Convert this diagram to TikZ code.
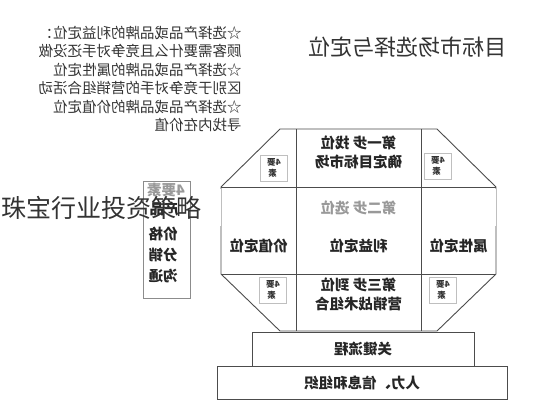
\documentclass[tikz,border=0pt]{standalone}
\usepackage{fontspec}
\newfontfamily\cjk{Noto Sans CJK SC}
\begin{document}
\begin{tikzpicture}[x=1pt,y=-1pt,
  mirror/.style={xscale=-1,transform shape},
  frame/.style={draw=black!70,line width=0.9pt},
  lab/.style={mirror,font=\cjk\bfseries\fontsize{14.5}{19}\selectfont,text=black!85,align=center,inner sep=0pt},
  sbox/.style={mirror,draw=black!25,line width=0.6pt,minimum width=27pt,minimum height=26pt,inner sep=1pt,align=left,font=\cjk\bfseries\fontsize{8.5}{11}\selectfont,text=black!80},
  plain/.style={mirror,draw=black!70,line width=0.9pt,inner sep=0pt}]
\useasboundingbox (0,0) rectangle (533,400);
\fill[white] (0,0) rectangle (533,400);

% left text block
\node[mirror,anchor=center,align=left,inner sep=0pt,font=\cjk\fontsize{14.5}{18.4}\selectfont,text=black!80] (intro) at (140,79)
 {☆选择产品或品牌的利益定位：\\顾客需要什么且竞争对手还没做\\☆选择产品或品牌的属性定位\\区别于竞争对手的营销组合活动\\☆选择产品或品牌的价值定位\\寻找内在价值};

% title
\node[mirror,font=\cjk\fontsize{22}{24}\selectfont,text=black!80,inner sep=0pt] (title) at (407,47) {目标市场选择与定位};

% octagon
\draw[frame] (280,129) -- (437,129) -- (496,187) -- (496,274) -- (437,331) -- (280,331) -- (221,274) -- (221,187) -- cycle;
\draw[white,line width=1.2pt] (221,189) -- (221,226) (496,189) -- (496,226);
\draw[black!25,line width=0.6pt] (221,189) -- (221,226) (496,189) -- (496,226);
\draw[frame] (221,187) -- (496,187);
\draw[frame] (221,274) -- (496,274);
\draw[frame] (296,129) -- (296,331);
\draw[frame] (421,129) -- (421,331);

% cell labels
\node[lab] (s1) at (358.5,152.5) {第一步 找位\\确定目标市场};
\node[lab,text=black!40] (s2) at (358.5,208) {第二步 选位};
\node[lab] (v) at (258.5,246) {价值定位};
\node[lab] (b) at (358.5,246) {利益定位};
\node[lab] (a) at (458.5,246) {属性定位};
\node[lab] (s3) at (358.5,294.5) {第三步 到位\\营销战术组合};

% small 4-factor boxes
\node[sbox] (k1) at (274,168) {4要\\\ \ 素};
\node[sbox] (k2) at (438,166) {4要\\\ \ 素};
\node[sbox] (k3) at (273,290) {4要\\\ \ 素};
\node[sbox] (k4) at (443,290) {4要\\\ \ 素};

% bottom bars
\node[plain,minimum width=222pt,minimum height=34pt] (kp) at (363,349) {};
\node[lab] at (kp.center) {关键流程};
\node[plain,minimum width=290pt,minimum height=33pt] (hr) at (362,382.5) {};
\node[lab] at (hr.center) {人力、信息和组织};

% left 4P box
\node[mirror,draw=black!45,line width=0.7pt,minimum width=47pt,minimum height=117pt,inner sep=0pt] (fp) at (166.5,239.5) {};
\node[lab,text=black!40] (f0) at (166,190) {4要素};
\node[lab] (f1) at (164,209) {产品};
\node[lab] (f2) at (163,234) {价格};
\node[lab] (f3) at (163,255) {分销};
\node[lab] (f4) at (163,276) {沟通};

% watermark
\node[anchor=west,inner sep=0pt,font=\cjk\fontsize{25}{27}\selectfont,text=black!80] (wm) at (1,208) {珠宝行业投资策略};
\end{tikzpicture}
\end{document}
